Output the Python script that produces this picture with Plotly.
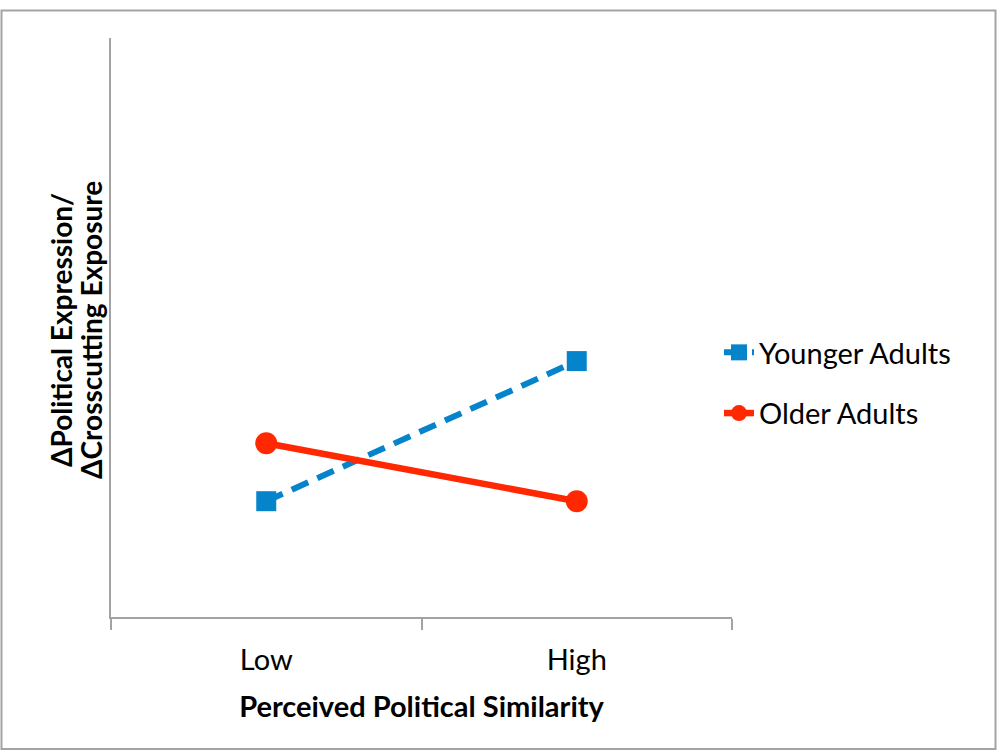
import plotly.graph_objects as go

categories = ["Low", "High"]
younger = [2.0, 4.42]
older = [3.0, 2.0]
series_names = ["Younger Adults", "Older Adults"]
x_title = "Perceived Political Similarity"
y_title_lines = ["ΔPolitical Expression/", "ΔCrosscutting Exposure"]

BLUE = "#0584cc"
RED = "#ff2800"
GRAY = "#a3a3a3"
FONT = "Lato"
FS = 29

fig = go.Figure()
fig.add_trace(go.Scatter(
    x=categories, y=younger, name=series_names[0], mode="lines+markers",
    legendgroup="a",
    line=dict(color=BLUE, width=6, dash="18px,10px"),
    marker=dict(symbol="square", size=20, color=BLUE),
))
fig.add_trace(go.Scatter(
    x=categories, y=older, name=series_names[1], mode="lines+markers",
    legendgroup="b",
    line=dict(color=RED, width=6.5),
    marker=dict(symbol="circle", size=22, color=RED),
))

W, H = 997, 751
L, R, T, B = 111, 732, 38, 617
pw, ph = R - L, B - T

def px(x):
    return (x - L) / pw

def py(y):
    return (B - y) / ph

fig.add_shape(type="rect", xref="paper", yref="paper",
              x0=px(1.5), x1=px(995.5), y0=py(749), y1=py(10.5),
              line=dict(color=GRAY, width=2), fillcolor="rgba(0,0,0,0)")

for line_txt, xc in zip(y_title_lines, [61, 91]):
    fig.add_annotation(text="<b>" + line_txt + "</b>", xref="paper", yref="paper",
                       x=px(xc), y=py(330), xanchor="center", yanchor="middle",
                       textangle=-90, showarrow=False,
                       font=dict(size=28, family=FONT, color="black"))

fig.update_layout(
    width=W, height=H,
    margin=dict(l=L, r=W - R, t=T, b=H - B, autoexpand=False),
    paper_bgcolor="white", plot_bgcolor="white",
    font=dict(family=FONT, color="black", size=FS),
    showlegend=True,
    legend=dict(x=px(719), y=py(327), xanchor="left", yanchor="top",
                font=dict(size=FS, family=FONT), tracegroupgap=20,
                itemwidth=30, bgcolor="rgba(0,0,0,0)"),
    xaxis=dict(
        type="category", range=[-0.5, 1.5], tickson="boundaries",
        ticks="outside", ticklen=11, tickwidth=2, tickcolor=GRAY,
        showline=True, linecolor=GRAY, linewidth=2, showgrid=False,
        zeroline=False, tickfont=dict(size=FS, family=FONT),
        ticklabelstandoff=16,
        title=dict(text="<b>" + x_title + "</b>", font=dict(size=FS, family=FONT), standoff=22),
    ),
    yaxis=dict(
        range=[0, 10], showticklabels=False, ticks="", showgrid=False,
        showline=True, linecolor=GRAY, linewidth=2, zeroline=False,
    ),
)

fig.write_html("out.html", config={"displayModeBar": False},
               post_script="document.body.style.margin='0';")
